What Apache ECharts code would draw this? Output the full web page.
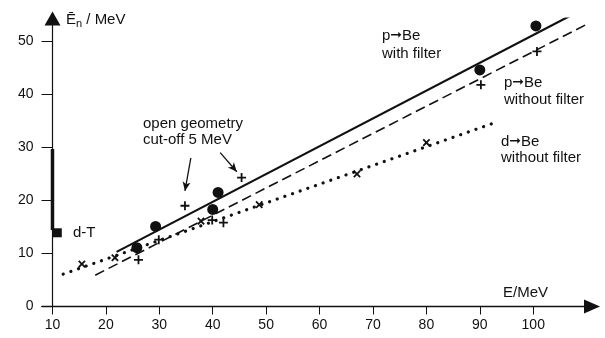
<!DOCTYPE html>
<html><head><meta charset="utf-8">
<script src="https://cdn.jsdelivr.net/npm/echarts@6/dist/echarts.min.js"></script>
<style>html,body{margin:0;padding:0;background:#fff}#c{width:605px;height:338px}</style>
</head><body><div id="c"></div>
<script>
// ---- data ----
const xTicks = [10, 20, 30, 40, 50, 60, 70, 80, 90, 100];
const yTicks = [0, 10, 20, 30, 40, 50];
const withFilterE  = [25.8, 29.3, 40.0, 41.0, 90.0, 100.5];
const withFilterEn = [11.1, 15.1, 18.3, 21.5, 44.6, 52.9];
const withoutFilterE  = [26.1, 29.9, 39.9, 42.0, 90.2, 100.7];
const withoutFilterEn = [8.8, 12.6, 16.3, 15.8, 41.8, 48.1];
const openGeomE  = [34.8, 45.4];
const openGeomEn = [19.0, 24.3];
const dBeE  = [15.5, 21.7, 37.8, 48.7, 67.0, 80.0];
const dBeEn = [8.0, 9.2, 16.1, 19.2, 25.0, 30.9];
const fitWithFilterE  = [22, 109];
const fitWithFilterEn = [10.3, 55.9];
const fitWithoutFilterE  = [18, 110.2];
const fitWithoutFilterEn = [5.9, 53.3];
const fitDBeE  = [12, 93.5];
const fitDBeEn = [6.1, 34.9];
const dtBarE  = [10, 10];
const dtBarEn = [29.7, 14.4];
const dtPointE  = [10.9];
const dtPointEn = [13.9];
const arrowFromE  = [35.9, 41.4];
const arrowFromEn = [28.0, 29.0];
const arrowToE  = [34.8, 44.5];
const arrowToEn = [21.8, 25.4];

const pairs = (xs, ys) => xs.map((x, i) => [x, ys[i]]);
const FONT = '"Liberation Sans", Arial, sans-serif';
const INK = '#111';
const plusPath = 'path://M4,0H6V4H10V6H6V10H4V6H0V4H4Z';
const solid = {color: INK, opacity: 1};

const chart = echarts.init(document.getElementById('c'), null, {renderer: 'canvas'});
chart.setOption({
  animation: false,
  backgroundColor: '#fff',
  grid: {left: 41.8, right: 13, top: 18.5, bottom: 31.5, containLabel: false},
  xAxis: {
    type: 'value', min: 8, max: 111,
    axisLine: {show: true, lineStyle: {color: INK, width: 1.3}, symbol: ['none', 'triangle'], symbolSize: [14, 16], symbolOffset: [0, 0]},
    axisTick: {show: true, customValues: xTicks, length: 8, inside: false, lineStyle: {color: INK, width: 1}},
    axisLabel: {show: true, customValues: xTicks, margin: 12, color: INK, fontSize: 14, fontFamily: FONT},
    splitLine: {show: false}
  },
  yAxis: {
    type: 'value', min: 0, max: 54.3, offset: -10.7,
    axisLine: {show: true, lineStyle: {color: INK, width: 1.2}, symbol: ['none', 'triangle'], symbolSize: [16, 14]},
    axisTick: {show: true, customValues: yTicks, length: 11, lineStyle: {color: INK, width: 1}},
    axisLabel: {show: true, customValues: yTicks, margin: 19, color: INK, fontSize: 14, fontFamily: FONT},
    splitLine: {show: false}
  },
  series: [
    {type: 'line', data: pairs(fitWithFilterE, fitWithFilterEn), symbol: 'none', silent: true,
     lineStyle: {color: INK, width: 2.2, type: 'solid'}},
    {type: 'line', data: pairs(fitWithoutFilterE, fitWithoutFilterEn), symbol: 'none', silent: true,
     lineStyle: {color: INK, width: 1.6, type: [10, 5]}},
    {type: 'line', data: pairs(fitDBeE, fitDBeEn), symbol: 'none', silent: true,
     lineStyle: {color: INK, width: 3.2, type: [0.1, 8], cap: 'round'}},
    {type: 'line', data: pairs(dtBarE, dtBarEn), symbol: 'none', silent: true,
     lineStyle: {color: INK, width: 3.5, cap: 'butt'}},
    {type: 'scatter', data: pairs(dtPointE, dtPointEn), symbol: 'rect', symbolSize: 9, itemStyle: solid},
    {type: 'scatter', data: pairs(withFilterE, withFilterEn), symbol: 'circle', symbolSize: 11, itemStyle: solid},
    {type: 'scatter', data: pairs(withoutFilterE, withoutFilterEn), symbol: plusPath, symbolSize: 9, itemStyle: solid},
    {type: 'scatter', data: pairs(openGeomE, openGeomEn), symbol: plusPath, symbolSize: 9, itemStyle: solid,
     markLine: {silent: true, symbol: ['none', 'arrow'], symbolSize: [6, 9],
       lineStyle: {color: INK, width: 1.3, type: 'solid'}, label: {show: false},
       data: arrowFromE.map((x, i) => [{coord: [x, arrowFromEn[i]]}, {coord: [arrowToE[i], arrowToEn[i]]}])}},
    {type: 'scatter', data: pairs(dBeE, dBeEn), symbol: plusPath, symbolSize: 9, symbolRotate: 45, itemStyle: solid}
  ],
  graphic: [
    {type: 'text', left: 66, top: 12, style: {
      text: '{a|Ē}{s|n}{a| / MeV}', fill: INK,
      rich: {a: {fontSize: 15, fontFamily: FONT, fill: INK}, s: {fontSize: 11, fontFamily: FONT, fill: INK, padding: [8, 0, 0, 0]}}}},
    {type: 'text', left: 503, top: 285, style: {text: 'E/MeV', fontSize: 15, fontFamily: FONT, fill: INK}},
    {type: 'text', left: 382, top: 28, style: {
      text: '{a|p}{b|➞}{a|Be}\n{a|with filter}', fill: INK,
      rich: {a: {fontSize: 15, fontFamily: FONT, fill: INK, lineHeight: 18}, b: {fontSize: 14, fontFamily: 'DejaVu Sans', fill: INK, lineHeight: 18}}}},
    {type: 'text', left: 504, top: 75, style: {
      text: '{a|p}{b|➞}{a|Be}\n{a|without filter}', fill: INK,
      rich: {a: {fontSize: 15, fontFamily: FONT, fill: INK, lineHeight: 17}, b: {fontSize: 14, fontFamily: 'DejaVu Sans', fill: INK, lineHeight: 17}}}},
    {type: 'text', left: 501, top: 134, style: {
      text: '{a|d}{b|➞}{a|Be}\n{a|without filter}', fill: INK,
      rich: {a: {fontSize: 15, fontFamily: FONT, fill: INK, lineHeight: 16}, b: {fontSize: 14, fontFamily: 'DejaVu Sans', fill: INK, lineHeight: 16}}}},
    {type: 'text', left: 143, top: 116, style: {
      text: 'open geometry\ncut-off 5 MeV', fontSize: 15, fontFamily: FONT, fill: INK, lineHeight: 16}},
    {type: 'text', left: 73, top: 225, style: {text: 'd-T', fontSize: 15, fontFamily: FONT, fill: INK}}
  ]
});
</script></body></html>
